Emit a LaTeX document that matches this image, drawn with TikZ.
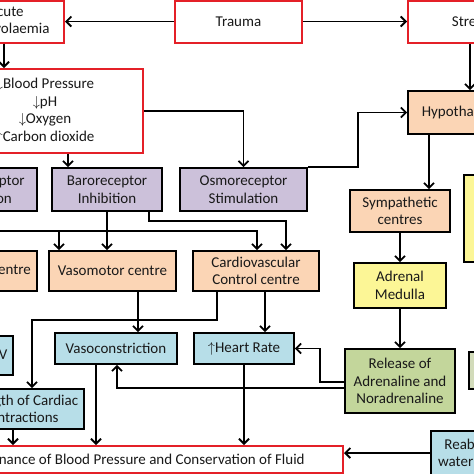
\documentclass[tikz,border=0pt]{standalone}
\usepackage{fontspec}
\setmainfont{Carlito}
\usepackage{tikz}
\usetikzlibrary{calc}
\usetikzlibrary{positioning}
\usetikzlibrary{arrows.meta}

\definecolor{boxred}{RGB}{228,32,40}
\definecolor{peach}{RGB}{251,213,181}
\definecolor{lilac}{RGB}{204,193,218}
\definecolor{paleblue}{RGB}{183,222,232}
\definecolor{paleyellow}{RGB}{252,246,150}
\definecolor{leafgreen}{RGB}{195,214,155}
\definecolor{greygreen}{RGB}{210,219,186}

\tikzset{
    box/.style={draw,line width=1.6pt,align=center,inner sep=2pt,text=black!90,
        font=\fontsize{15}{17.5}\selectfont},
    sz/.style 2 args={minimum width=#1pt,minimum height=#2pt},
    redbox/.style={box,draw=boxred,line width=2pt,fill=white},
    centrebox/.style={box,fill=peach},
    receptor/.style={box,fill=lilac},
    effect/.style={box,fill=paleblue},
    glandbox/.style={box,fill=paleyellow},
    hormone/.style={box,fill=leafgreen},
    link/.style={line width=1.8pt,->},
}

\begin{document}
\begin{tikzpicture}[x=1pt,y=-1pt,>={Straight Barb[length=5pt,width=10pt]}]
    \useasboundingbox (0,0) rectangle (474,474);
    \clip (0,0) rectangle (474,474);
    \fill[white] (0,0) rectangle (474,474);

    % top row
    \node[redbox,sz={116}{42}] (acute) at (6,21.5) {Acute\\Hypovolaemia};
    \node[redbox,sz={127}{42}] (trauma) at (238.5,21.5) {Trauma};
    \node[redbox,sz={124}{42}] (stress) at (470,21.5) {Stress};
    \node[redbox,sz={196}{84}] (bp) at (45,111)
        {$\downarrow$Blood Pressure\\$\downarrow$pH\\$\downarrow$Oxygen\\$\uparrow$Carbon dioxide};
    \node[centrebox,sz={116}{43}] (hypo) at (466,112.5) {Hypothalamus};

    % receptors
    \node[receptor,sz={120}{43}] (chemo) at (-23,189.5) {Chemoreceptor\\Stimulation};
    \node[receptor,sz={110}{43}] (baro) at (107,189.5) {Baroreceptor\\Inhibition};
    \node[receptor,sz={127}{43}] (osmo) at (243.5,189.5) {Osmoreceptor\\Stimulation};

    % centres
    \node[centrebox,sz={124}{40}] (resp) at (-25,271) {Respiratory centre};
    \node[centrebox,sz={127}{40}] (vmc) at (112.5,271) {Vasomotor centre};
    \node[centrebox,sz={126}{40}] (cardio) at (256,271) {Cardiovascular\\Control centre};
    \node[centrebox,sz={100}{42}] (symp) at (400,211) {Sympathetic\\centres};
    \node[glandbox,sz={92}{45}] (adrenal) at (400,285.5) {Adrenal\\Medulla};
    \node[glandbox,sz={100}{87}] (gland) at (514,218.5) {};

    % effects
    \node[effect,sz={40}{39}] (vent) at (-7,355.5) {$\uparrow$MV};
    \node[effect,sz={122}{31}] (vasc) at (116,348.5) {Vasoconstriction};
    \node[effect,sz={100}{31}] (hr) at (244,348.5) {$\uparrow$Heart Rate};
    \node[hormone,sz={110}{64}] (release) at (400,381) {Release of\\Adrenaline and\\Noradrenaline};
    \node[box,fill=greygreen,sz={100}{37}] (hormone2) at (519,370.5) {};
    \node[effect,sz={128}{40}] (force) at (20,409) {Strength of Cardiac\\Contractions};
    \node[effect,sz={124}{44}] (reab) at (493,453) {Reabsorption of\\water and sodium};
    \node[redbox,sz={426}{27}] (maint) at (130,459.5)
        {Maintenance of Blood Pressure and Conservation of Fluid};

    % connectors
    \draw[link] (trauma.west) -- (acute.east);
    \draw[link] (trauma.east) -- (stress.west);
    \draw[link] (acute.south -| 4,0) -- (bp.north -| 4,0);
    \draw[link] (stress.south) -- (stress.south |- hypo.north);
    \draw[link] (bp.east) -| (osmo.north);
    \draw[link] (osmo.north east) -- ++(50,0) |- (hypo.west);
    \draw[link] (bp.south -| 68,0) -- (baro.north -| 68,0);
    \draw[link] (hypo.south -| 429,0) -- (symp.north -| 429,0);
    \draw[link] (symp) -- (adrenal);
    \draw[link] (adrenal) -- (release);

    \coordinate (split) at (59,231);
    \draw[link] (chemo.south) |- (257,231) -- (cardio.north -| 257,0);
    \draw[link] (split) -- (vmc.north -| split);
    \draw[link] (baro.south) -- (baro.south |- vmc.north);
    \draw[link] (baro.south -| 149,0) |- (286,221) -- (cardio.north -| 286,0);

    \draw[link] (vmc.south -| 138,0) -- (vasc.north -| 138,0);
    \draw[link] (cardio.south -| 265,0) -- (hr.north -| 265,0);
    \draw[link] (cardio.south -| 217,0) |- (32,320) -- (force.north -| 32,0);
    \draw[link] (release.west |- 0,382) -| (320,348.5) -- (hr.east);
    \draw[link] (release.west |- 0,388) -| (vasc.south -| 117,0);

    \draw[link] (force.south -| 13,0) -- (maint.north -| 13,0);
    \draw[link] (vasc.south -| 96,0) -- (maint.north -| 96,0);
    \draw[link] (hr.south) -- (hr.south |- maint.north);
    \draw[link] (reab.west) -- (reab.west -| maint.east);
\end{tikzpicture}
\end{document}
